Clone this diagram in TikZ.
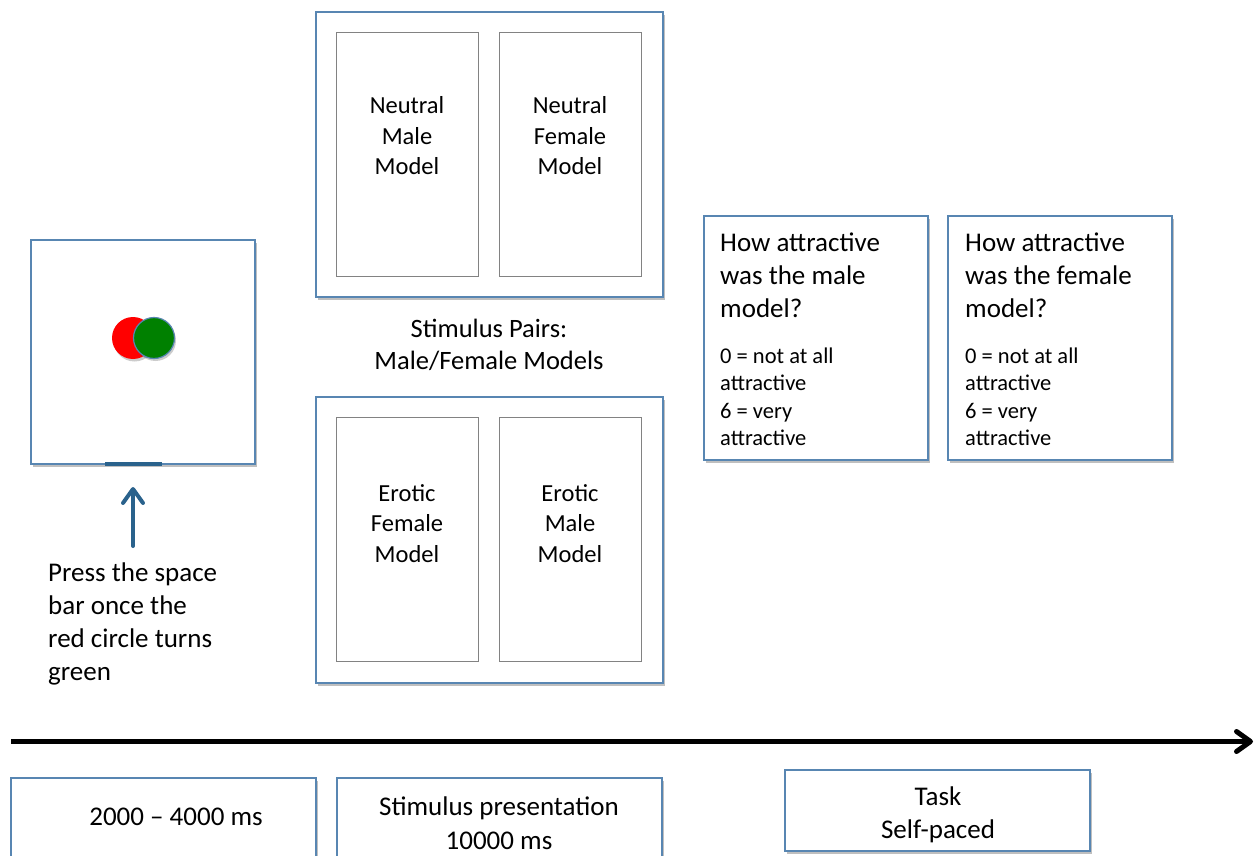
\documentclass[tikz,border=0pt]{standalone}
\usepackage{fontspec}
\setmainfont{Carlito}
\usetikzlibrary{arrows.meta,shadows}
\definecolor{boxblue}{RGB}{88,134,178}
\definecolor{darkblue}{RGB}{42,98,140}
\definecolor{innergray}{RGB}{130,130,130}
\definecolor{stimgreen}{RGB}{0,128,0}
\begin{document}
\begin{tikzpicture}[x=1pt,y=-1pt,
  frame/.style={draw=boxblue, line width=1.5pt, fill=white, inner sep=0pt,
    drop shadow={shadow xshift=2pt, shadow yshift=-3pt, fill=black, opacity=0.25}},
  innerbox/.style={draw=innergray, line width=0.8pt, fill=white, inner sep=0pt},
  modeltext/.style={inner sep=0pt, anchor=base, align=center, font=\fontsize{24.5}{30.5}\selectfont},
  bigtext/.style={inner sep=0pt, anchor=base west, align=left, font=\fontsize{27}{33}\selectfont},
  scaletext/.style={inner sep=0pt, anchor=base west, align=left, font=\fontsize{22.5}{27.5}\selectfont},
  captext/.style={inner sep=0pt, anchor=base, align=center, font=\fontsize{26.5}{32}\selectfont},
  timetext/.style={inner sep=0pt, anchor=base, align=center, font=\fontsize{27}{34}\selectfont}
]
\useasboundingbox (0,0) rectangle (1254,856);

% fixation screen
\node[frame, minimum width=224pt, minimum height=224pt] (fix) at (143,352) {};
\node[circle, fill=red, minimum size=42pt, inner sep=0pt,
  drop shadow={shadow xshift=1.5pt, shadow yshift=-2.5pt, fill=black, opacity=0.2}] (redc) at (133,338) {};
\node[circle, fill=stimgreen, draw=boxblue, line width=1.2pt, minimum size=41pt, inner sep=0pt,
  drop shadow={shadow xshift=1.5pt, shadow yshift=-2.5pt, fill=black, opacity=0.2}] (greenc) at (154,338) {};
\coordinate (barL) at (105,464);
\coordinate (barR) at (162,464);
\draw[darkblue, line width=3.5pt] (barL) -- (barR);
\coordinate (bar) at (133,466);
\coordinate (arrowstart) at (133,546);
\draw[darkblue, line width=4pt, line cap=round,
  -{Straight Barb[length=14pt,width=20pt,line width=4pt,round]}, shorten >=21pt] (arrowstart) -- (bar);
\node[bigtext] (press) at (48,680) {Press the space\\bar once the\\red circle turns\\green};

% top stimulus pair
\node[frame, minimum width=347pt, minimum height=285pt] (topstim) at (489.5,154.5) {};
\node[innerbox, minimum width=142pt, minimum height=244pt] (nmale) at (407,154) {};
\node[innerbox, minimum width=142pt, minimum height=244pt] (nfemale) at (570,154) {};
\node[modeltext] (nmaletxt) at (407,175) {Neutral\\Male\\Model};
\node[modeltext] (nfemaletxt) at (570,175) {Neutral\\Female\\Model};

\node[captext] (pairs) at (489,369) {Stimulus Pairs:\\Male/Female Models};

% bottom stimulus pair
\node[frame, minimum width=347pt, minimum height=286pt] (botstim) at (489.5,540) {};
\node[innerbox, minimum width=142pt, minimum height=244pt] (efemale) at (407,539) {};
\node[innerbox, minimum width=142pt, minimum height=244pt] (emale) at (570,539) {};
\node[modeltext] (efemaletxt) at (407,562) {Erotic\\Female\\Model};
\node[modeltext] (emaletxt) at (570,562) {Erotic\\Male\\Model};

% rating screens
\node[frame, minimum width=224pt, minimum height=244pt] (qmale) at (816,338) {};
\node[frame, minimum width=224pt, minimum height=244pt] (qfemale) at (1060,338) {};
\node[bigtext] (qmaletxt) at (720,317) {How attractive\\was the male\\model?};
\node[bigtext] (qfemaletxt) at (965,317) {How attractive\\was the female\\model?};
\node[scaletext] (smale) at (720,445.5) {0 = not at all\\attractive\\6 = very\\attractive};
\node[scaletext] (sfemale) at (965,445.5) {0 = not at all\\attractive\\6 = very\\attractive};

% timeline
\coordinate (tlstart) at (11,741.5);
\coordinate (tlend) at (1253,741.5);
\draw[black, line width=5pt,
  -{Straight Barb[length=14pt,width=20pt,line width=5pt,round]}] (tlstart) -- (tlend);

% timing boxes
\node[frame, minimum width=305pt, minimum height=102pt] (t1) at (163.5,829) {};
\node[frame, minimum width=325pt, minimum height=102pt] (t2) at (499.5,829) {};
\node[frame, minimum width=305pt, minimum height=81pt] (t3) at (937.5,810.5) {};
\node[timetext] (t1txt) at (176,825) {2000 – 4000 ms};
\node[timetext] (t2txt) at (499,849) {Stimulus presentation\\10000 ms};
\node[timetext, font=\fontsize{27}{33}\selectfont] (t3txt) at (938,838) {Task\\Self-paced};
\end{tikzpicture}
\end{document}
